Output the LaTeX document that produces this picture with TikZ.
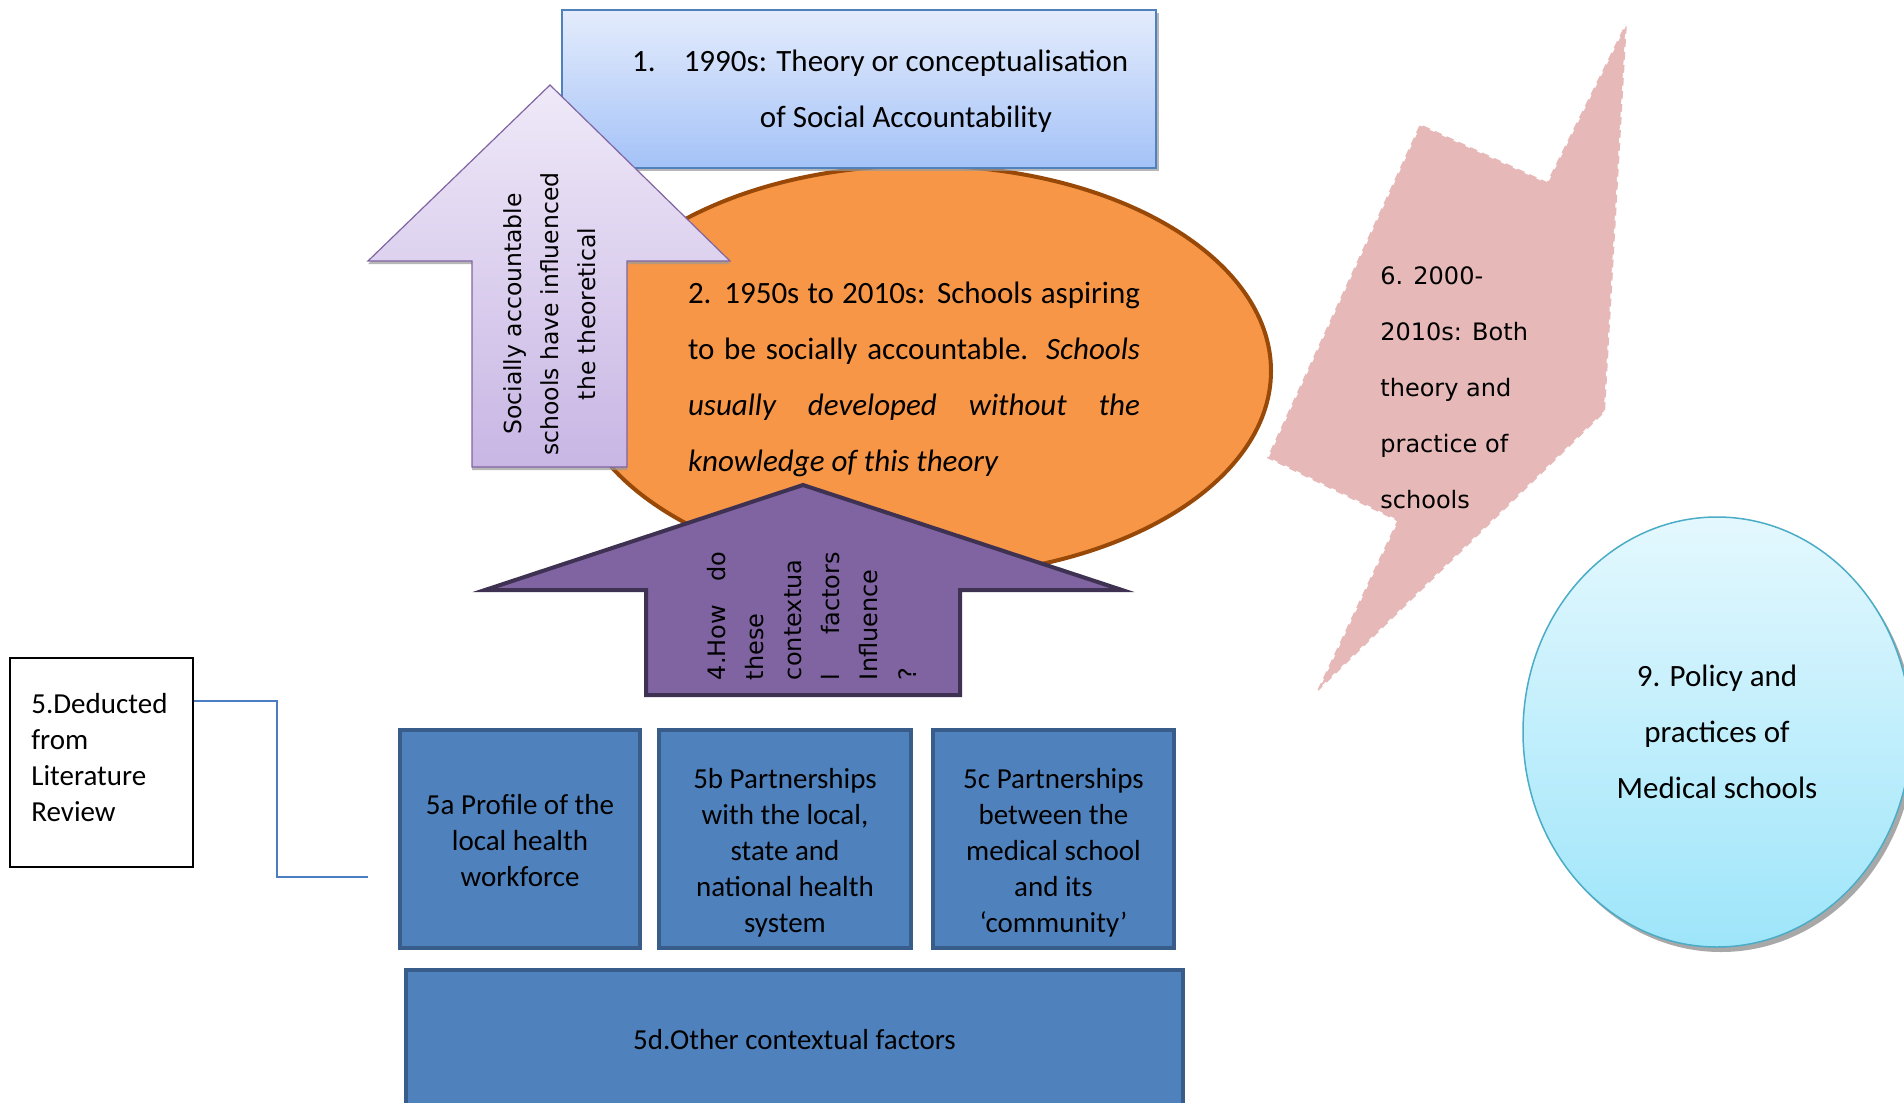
\documentclass[tikz,border=0pt]{standalone}
\usepackage{fontspec}
\setmainfont{Carlito}
\newfontfamily\verdfont{DejaVu Sans}
\usetikzlibrary{shapes.geometric,shadows,calc}
\definecolor{boxtop}{RGB}{228,236,252}
\definecolor{boxbot}{RGB}{164,194,247}
\definecolor{boxline}{RGB}{79,129,189}
\definecolor{ellfill}{RGB}{247,150,70}
\definecolor{ellline}{RGB}{152,72,7}
\definecolor{lavtop}{RGB}{239,233,248}
\definecolor{lavbot}{RGB}{200,182,228}
\definecolor{lavline}{RGB}{128,100,162}
\definecolor{purfill}{RGB}{128,100,162}
\definecolor{purline}{RGB}{63,49,81}
\definecolor{pinkfill}{RGB}{230,185,184}
\definecolor{cyantop}{RGB}{228,248,254}
\definecolor{cyanbot}{RGB}{158,229,250}
\definecolor{cyanline}{RGB}{75,172,198}
\definecolor{bluefill}{RGB}{79,129,189}
\definecolor{blueline}{RGB}{56,93,138}
\definecolor{connblue}{RGB}{74,126,193}
\begin{document}
\begin{tikzpicture}[x=0.5pt,y=-0.5pt,
  calib/.style={font=\fontsize{15.5}{28}\selectfont, inner sep=0},
  smalltxt/.style={font=\fontsize{14.5}{18}\selectfont, inner sep=0},
  vtexta/.style={font=\verdfont\fontsize{11.75}{18.5}\selectfont, inner sep=0},
  vtextb/.style={font=\verdfont\fontsize{12}{19.1}\selectfont, inner sep=0},
  vtextc/.style={font=\verdfont\fontsize{12}{28}\selectfont, inner sep=0},
  topbox/.style={rectangle, draw=boxline, line width=0.75pt, top color=boxtop, bottom color=boxbot,
    drop shadow={shadow xshift=1.5pt, shadow yshift=-1.5pt, fill=black!40, opacity=0.7}},
  ellbox/.style={ellipse, draw=ellline, line width=2pt, fill=ellfill, inner sep=0},
  lightarrow/.style={draw=lavline, line width=0.6pt, top color=lavtop, bottom color=lavbot,
    drop shadow={shadow xshift=0pt, shadow yshift=-1.5pt, fill=black!40, opacity=0.7}},
  darkarrow/.style={draw=purline, line width=2pt, fill=purfill},
  pinkbolt/.style={fill=pinkfill, draw=white, line width=1.2pt, dash pattern=on 2.5pt off 4pt},
  circlebox/.style={ellipse, draw=cyanline, line width=0.75pt, top color=cyantop, bottom color=cyanbot, inner sep=0,
    drop shadow={shadow xshift=2pt, shadow yshift=-2.5pt, fill=black!45, opacity=0.75}},
  litbox/.style={rectangle, draw=black, line width=0.6pt, fill=white},
  bluebox/.style={rectangle, draw=blueline, line width=2pt, fill=bluefill,
    drop shadow={shadow xshift=0.5pt, shadow yshift=-0.8pt, fill=black!40, opacity=0.5}},
  conn/.style={draw=connblue, line width=1pt}
]
\useasboundingbox (0,0) rectangle (1904,1102);
\clip (0,0) rectangle (1904,1102);
\fill[white] (0,0) rectangle (1904,1102);

% 2 ellipse
\node[ellbox, minimum width=350pt, minimum height=205.5pt] (e2) at (921,371) {};
% 1 top box
\node[topbox, minimum width=297pt, minimum height=79pt] (b1) at (859,89) {};
\node[calib, align=center] (t1) at (906,91) {\llap{1.\hspace{14pt}}1990s: Theory or conceptualisation\\of Social Accountability};

% light arrow
\path[lightarrow] (550,85) -- (730,261) -- (627,261) -- (627,467) -- (472,467) -- (472,261) -- (368,261) -- cycle;
\node[vtexta, align=center, rotate=90] (t3) at (550,314) {Socially accountable\\schools have influenced\\the theoretical};

% ellipse text
\node[calib, align=left] (t2) at (914,379) {\makebox[226pt][s]{2. 1950s to 2010s: Schools aspiring}\\
\makebox[226pt][s]{to be socially accountable. \textit{Schools}}\\
\makebox[226pt][s]{\textit{usually developed without the}}\\
\textit{knowledge of this theory}};

% dark arrow
\path[darkarrow] (803,485) -- (1122,590) -- (960,590) -- (960,695) -- (646,695) -- (646,590) -- (485,590) -- cycle;
\node[vtextb, align=left, rotate=90] (t4) at (811.5,616) {\makebox[64pt][s]{4.How do}\\these\\contextua\\\makebox[64pt][s]{l factors}\\Influence\\?};

% pink bolt
\path[pinkbolt] (1627,21) -- (1605,412) -- (1316,693) -- (1397,521) -- (1267,458) -- (1420,124) -- (1547,182) -- cycle;
\node[vtextc, align=left, anchor=west] (t6) at (1380,388) {6. 2000-\\2010s: Both\\theory and\\practice of\\schools};

% 9 circle
\node[circlebox, minimum width=194pt, minimum height=215pt] (c9) at (1717,732) {};
\node[calib, align=center] (t9) at (1717,732) {9. Policy and\\practices of\\Medical schools};

% 5 literature box
\node[litbox, minimum width=91.5pt, minimum height=104.5pt] (lit) at (101.5,762.5) {};
\node[smalltxt, align=left, anchor=west] (tlit) at (31,758) {5.Deducted\\from\\Literature\\Review};
\coordinate (c5bend) at (277,877);
\coordinate (c5end) at (368,877);
\draw[conn] ([yshift=-22pt]lit.north east) -| (c5bend) -- (c5end);

% blue boxes
\node[bluebox, minimum width=120pt, minimum height=109pt] (b5a) at (520,839) {};
\node[smalltxt, align=center] (t5a) at (520,841) {5a Profile of the\\local health\\workforce};
\node[bluebox, minimum width=126pt, minimum height=109pt] (b5b) at (785,839) {};
\node[smalltxt, align=center] (t5b) at (785,853) {5b Partnerships\\with the local,\\state and\\national health\\system};
\node[bluebox, minimum width=120.5pt, minimum height=109pt] (b5c) at (1053.5,839) {};
\node[smalltxt, align=center] (t5c) at (1053.5,853) {5c Partnerships\\between the\\medical school\\and its\\‘community’};
\node[bluebox, minimum width=388.5pt, minimum height=70pt] (b5d) at (794.5,1040) {};
\node[smalltxt] (t5d) at (794.5,1040) {5d.Other contextual factors};
\end{tikzpicture}
\end{document}
